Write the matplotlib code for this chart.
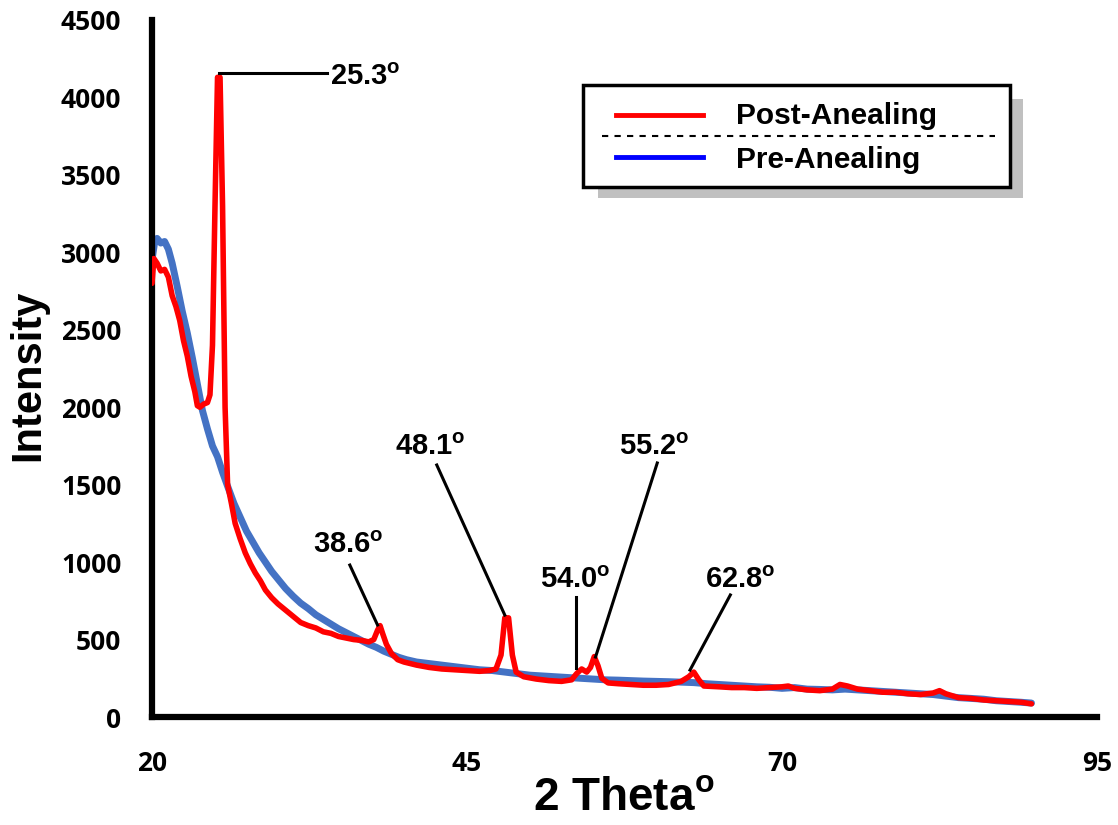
import matplotlib
matplotlib.use("Agg")
import matplotlib.pyplot as plt
from matplotlib.patches import Rectangle
from matplotlib.lines import Line2D

# ---- data ----
post_x = [20.0, 20.15, 20.4, 20.7, 21.0, 21.3, 21.6, 21.9, 22.2, 22.5, 22.8, 23.1, 23.4, 23.6, 23.8,
          24.1, 24.4, 24.6, 24.8, 25.0, 25.2, 25.4, 25.6, 25.8, 26.0, 26.3, 26.6, 27.0, 27.4, 27.8,
          28.2, 28.6, 29.0, 29.5, 30.0, 30.6, 31.2, 31.8, 32.4, 33.0, 33.6, 34.2, 34.8, 35.4, 36.0,
          36.6, 37.2, 37.6, 37.9, 38.1, 38.3, 38.6, 39.0, 39.5, 40.0, 41.0, 42.0, 43.0, 44.0, 45.0,
          46.0, 46.8, 47.3, 47.7, 48.0, 48.3, 48.6, 48.9, 49.5, 50.5, 51.5, 52.5, 53.3, 53.7, 54.1,
          54.5, 54.8, 55.1, 55.4, 55.7, 56.2, 57, 58, 59, 60, 61, 62, 62.6, 63.0, 63.4, 63.8, 65, 66,
          67, 68, 69, 70, 70.5, 71, 72, 73, 74, 74.6, 75.2, 76, 77, 78, 79, 80, 81, 82, 82.5, 83, 84,
          85, 86, 87, 88, 89, 89.8]
post_y = [2800, 2960, 2930, 2880, 2890, 2840, 2720, 2650, 2560, 2430, 2330, 2200, 2100, 2010, 2000,
          2020, 2030, 2080, 2400, 3300, 4130, 4130, 3300, 2000, 1500, 1380, 1250, 1150, 1060, 990,
          930, 880, 820, 770, 730, 690, 650, 610, 590, 575, 550, 540, 520, 510, 500,
          495, 485, 500, 560, 590, 540, 470, 410, 370, 355, 335, 320, 310, 305, 300,
          295, 300, 310, 400, 640, 640, 400, 290, 260, 245, 235, 230, 240, 280, 310,
          290, 320, 390, 330, 250, 220, 215, 210, 205, 205, 210, 230, 260, 290, 240, 200, 195, 190,
          190, 185, 190, 195, 200, 185, 175, 170, 180, 210, 200, 180, 170, 160, 160, 150, 145, 155, 170, 150, 125,
          120, 110, 105, 100, 95, 85]

pre_x = [20.0, 20.2, 20.4, 20.7, 21.0, 21.3, 21.6, 22.0, 22.4, 22.8, 23.2, 23.6, 24.0, 24.4, 24.8,
         25.2, 25.6, 26.0, 26.5, 27.0, 27.5, 28.0, 28.5, 29.0, 29.5, 30.0, 30.6, 31.2, 31.8, 32.4,
         33.0, 33.6, 34.2, 34.8, 35.4, 36.0, 36.6, 37.2, 37.8, 38.4, 39.0, 39.6, 40.2, 41, 42, 43,
         44, 45, 46, 47, 48, 49, 50, 51, 52, 53, 54, 55, 56, 57, 58, 59, 60, 61, 62, 63, 64, 65, 66,
         67, 68, 69, 70, 71, 72, 73, 74, 75, 76, 77, 78, 79, 80, 81, 82, 83, 84, 85, 86, 87, 88, 89, 89.8]
pre_y = [2950, 3060, 3090, 3060, 3070, 3020, 2930, 2780, 2620, 2480, 2320, 2150, 1980, 1860, 1750,
         1680, 1580, 1490, 1380, 1290, 1200, 1130, 1060, 1000, 940, 890, 830, 780, 735, 700,
         660, 630, 600, 570, 545, 520, 495, 470, 450, 425, 405, 385, 370, 355, 345, 335,
         325, 315, 305, 300, 290, 280, 270, 265, 260, 255, 250, 245, 240, 238, 235, 232, 230, 228, 225, 222, 215, 210, 205,
         200, 195, 192, 185, 190, 180, 178, 175, 180, 175, 170, 165, 160, 155, 150, 145, 135, 125, 120, 115, 105, 100, 95, 90]

x_ticks = [20, 45, 70, 95]
y_ticks = [0, 500, 1000, 1500, 2000, 2500, 3000, 3500, 4000, 4500]

legend_labels = ["Post-Anealing", "Pre-Anealing"]

# peak annotations: label, label position, line start, line end
peak_labels = ["25.3", "38.6", "48.1", "54.0", "55.2", "62.8"]
peak_text_xy = [(34.1, 4132), (35.6, 1110), (42.1, 1743), (53.6, 884), (59.9, 1743), (66.7, 884)]
peak_line_from = [(25.3, 4160), (35.7, 981), (42.6, 1627), (53.65, 775), (60.1, 1640), (65.9, 788)]
peak_line_to = [(33.9, 4160), (37.9, 594), (48.0, 658), (53.65, 316), (55.2, 387), (62.7, 303)]

# ---- figure ----
plt.rcParams['mathtext.fontset'] = 'custom'
plt.rcParams['mathtext.rm'] = 'Liberation Sans:bold'
plt.rcParams['mathtext.bf'] = 'Liberation Sans:bold'

W, H = 1118, 825
fig = plt.figure(figsize=(W / 100, H / 100), dpi=100)
ax = fig.add_axes([152 / W, 1 - 717 / H, (1097 - 152) / W, (717 - 20) / H])

ax.plot(pre_x, pre_y, color="#4472C4", lw=5.0, solid_capstyle="round", solid_joinstyle="round", zorder=2)
ax.plot(post_x, post_y, color="#FF0000", lw=4.0, solid_capstyle="round", solid_joinstyle="round", zorder=3)

ax.set_xlim(20, 95)
ax.set_ylim(0, 4500)
ax.set_xticks(x_ticks)
ax.set_yticks(y_ticks)
for s in ["top", "right"]:
    ax.spines[s].set_visible(False)
for s in ["left", "bottom"]:
    ax.spines[s].set_linewidth(4.5)
    ax.spines[s].set_color("black")
ax.tick_params(length=0)
ax.tick_params(axis="y", pad=22)
ax.tick_params(axis="x", pad=24)
for lab in ax.get_xticklabels() + ax.get_yticklabels():
    lab.set_fontfamily("Open Sans")
    lab.set_fontweight("bold")
    lab.set_fontsize(19)

fig.text(28 / W, 1 - 375 / H, "Intensity", rotation=90, ha="center", va="center",
         fontsize=30, fontweight="bold", family="Liberation Sans")
fig.text(624 / W, 1 - 798 / H, r"2 Theta$^{\mathrm{o}}$", ha="center", va="center",
         fontsize=33, fontweight="bold", family="Liberation Sans")

# annotations
for lab, txy, p0, p1 in zip(peak_labels, peak_text_xy, peak_line_from, peak_line_to):
    ax.plot([p0[0], p1[0]], [p0[1], p1[1]], color="black", lw=2.2, zorder=4)
    ha = "left" if lab == "25.3" else "center"
    ax.text(txy[0], txy[1], lab + r"$^{\mathrm{o}}$", ha=ha, va="center", fontsize=21,
            fontweight="bold", family="Liberation Sans", zorder=5)

# legend (custom box with shadow)
def fx(px):
    return px / W

def fy(py):
    return 1 - py / H

fig.add_artist(Rectangle((fx(598), fy(198)), fx(1023) - fx(598), fy(99) - fy(198),
                         transform=fig.transFigure, facecolor="#C0C0C0", edgecolor="none", zorder=5))
fig.add_artist(Rectangle((fx(583), fy(187)), fx(1010) - fx(583), fy(85) - fy(187),
                         transform=fig.transFigure, facecolor="white", edgecolor="black", lw=2.5, zorder=6))
fig.add_artist(Line2D([fx(616), fx(703)], [fy(115), fy(115)], transform=fig.transFigure,
                      color="#FF0000", lw=3.5, zorder=7))
fig.add_artist(Line2D([fx(616), fx(703)], [fy(157), fy(157)], transform=fig.transFigure,
                      color="#0000FF", lw=3.5, zorder=7))
fig.add_artist(Line2D([fx(602), fx(995)], [fy(136), fy(136)], transform=fig.transFigure,
                      color="black", lw=1.5, ls=(0, (3, 3)), zorder=7))
fig.text(fx(736), fy(116), legend_labels[0], ha="left", va="center", fontsize=21.5,
         fontweight="bold", family="Liberation Sans", zorder=8)
fig.text(fx(736), fy(160), legend_labels[1], ha="left", va="center", fontsize=21.5,
         fontweight="bold", family="Liberation Sans", zorder=8)

fig.savefig("out.png", dpi=100, facecolor="white")
